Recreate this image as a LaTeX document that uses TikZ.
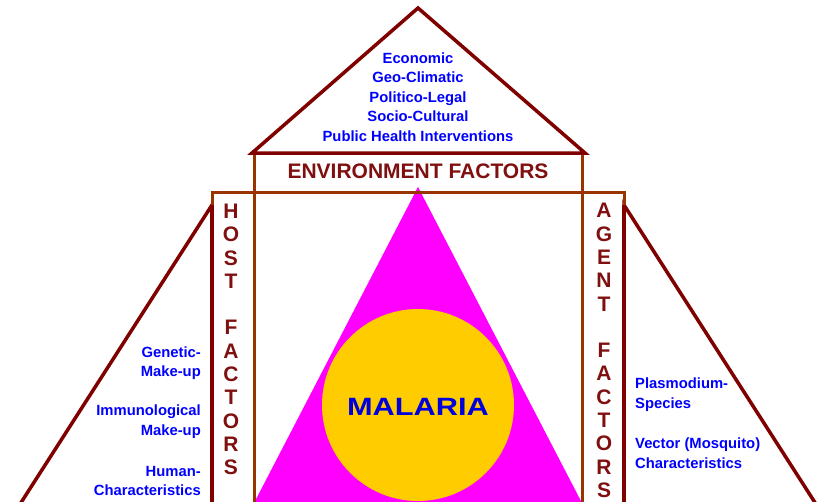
\documentclass[tikz,border=0pt]{standalone}
\usepackage{fontspec}
\setmainfont{Liberation Sans}
\definecolor{frame}{HTML}{993300}
\definecolor{edge}{HTML}{800000}
\definecolor{headred}{HTML}{801010}
\definecolor{itemblue}{HTML}{0000FF}
\definecolor{namblue}{HTML}{0000DD}
\definecolor{core}{HTML}{FF00FF}
\definecolor{disc}{HTML}{FFCC00}
\begin{document}
\begin{tikzpicture}[x=1pt,y=-1pt,
  frameline/.style={draw=frame,line width=3pt},
  outline/.style={draw=edge,line width=3.5pt,line join=miter},
  item/.style={text=itemblue,inner sep=0pt,
    font=\fontsize{14.8}{19.6}\selectfont\bfseries},
  heading/.style={text=headred,inner sep=0pt,
    font=\fontsize{21}{23.3}\selectfont\bfseries}]
\useasboundingbox (0,0) rectangle (821,501);
\clip (0,0) rectangle (821,501);
\fill[white] (0,0) rectangle (821,501);

% central triangle and disc
\fill[core] (418,187) -- (240,530) -- (596,530) -- cycle;
\fill[disc] (418,405) circle (96);

% side triangles
\draw[outline] (212,205) -- (212,540) -- (-3,540) -- cycle;
\draw[outline] (624,205) -- (624,540) -- (839,540) -- cycle;

% frames
\draw[frameline] (254,153) -- (254,540);
\draw[frameline] (582,153) -- (582,540);
\draw[frameline] (212,540) -- (212,192) -- (624,192) -- (624,540);
\draw[outline] (212,205) -- (212,540);
\draw[outline] (624,205) -- (624,540);

% roof
\draw[outline] (252,153) -- (418,8) -- (585,153) -- cycle;

% labels
\node[item,align=center] (env) at (418,97)
  {Economic\\Geo-Climatic\\Politico-Legal\\Socio-Cultural\\Public Health Interventions};
\node[heading] (envhead) at (418,171) {ENVIRONMENT FACTORS};
\node[heading,align=center] (host) at (231,339.5)
  {H\\O\\S\\T\\[23.3pt]F\\A\\C\\T\\O\\R\\S};
\node[heading,align=center] (agent) at (604,350.5)
  {A\\G\\E\\N\\T\\[23.3pt]F\\A\\C\\T\\O\\R\\S};

\node[item,align=right,anchor=east] (genetic) at (201,363) {Genetic-\\Make-up};
\node[item,align=right,anchor=east] (immuno) at (201,421.5) {Immunological\\Make-up};
\node[item,align=right,anchor=east] (human) at (201,481) {Human-\\Characteristics};

\node[item,align=left,anchor=west] (plasmo) at (635,394.5) {Plasmodium-\\Species};
\node[item,align=left,anchor=west] (vector) at (635,453) {Vector (Mosquito)\\Characteristics};

\node[text=namblue,inner sep=0pt,font=\fontsize{25}{25}\selectfont\bfseries]
  (malaria) at (418,407) {\scalebox{1.23}[1]{MALARIA}};
\end{tikzpicture}
\end{document}
